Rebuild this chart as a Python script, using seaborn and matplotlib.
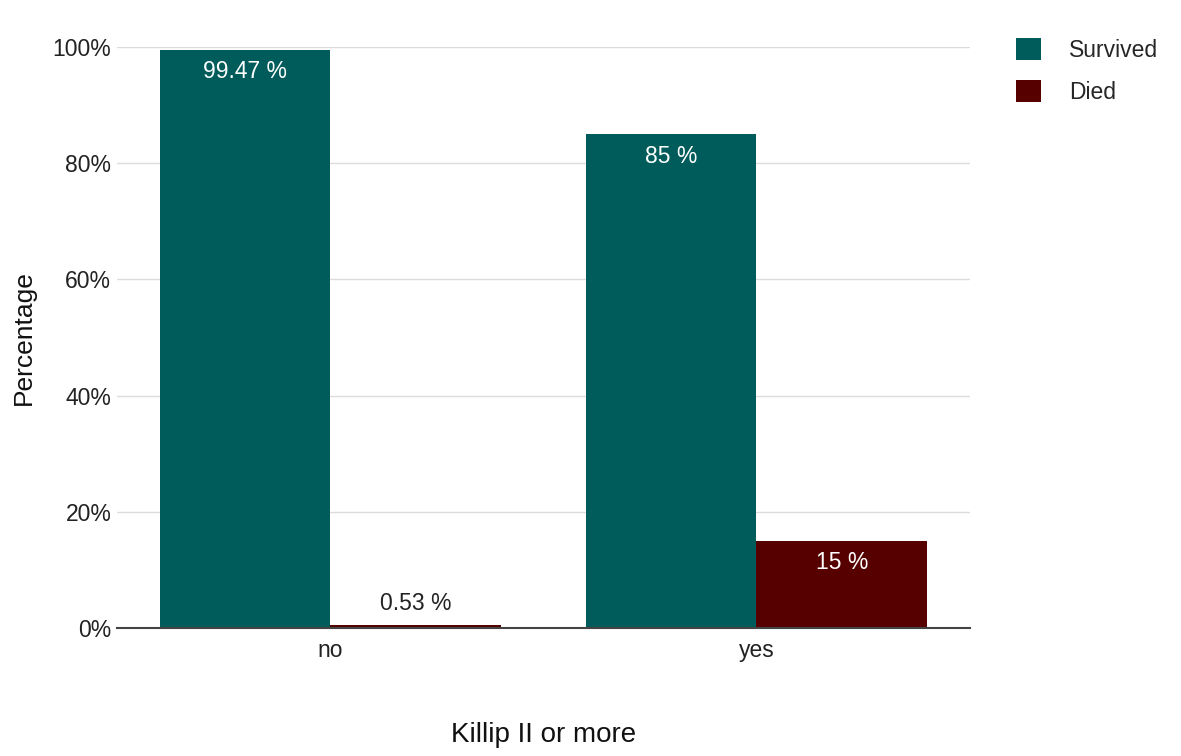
import pandas as pd
import matplotlib.pyplot as plt
import seaborn as sns
from matplotlib.ticker import PercentFormatter

killip = ['no', 'no', 'yes', 'yes']
outcome = ['Survived', 'Died', 'Survived', 'Died']
percent = [99.47, 0.53, 85, 15]
labels = ['99.47 %', '0.53 %', '85 %', '15 %']

df = pd.DataFrame({'Killip': killip, 'Outcome': outcome, 'Percent': percent})

sns.set_style('white')
plt.rcParams['font.family'] = ['Liberation Sans', 'DejaVu Sans']

fig = plt.figure(figsize=(11.81, 7.56), dpi=100)
ax = fig.add_axes([0.099, 0.169, 0.722, 0.769])

sns.barplot(data=df, x='Killip', y='Percent', hue='Outcome',
            palette={'Survived': '#005c5a', 'Died': '#560000'},
            width=0.8, saturation=1, linewidth=0, ax=ax, legend=True)

ax.set_xlim(-0.5, 1.5)
ax.set_ylim(0, 100)
ax.set_yticks([0, 20, 40, 60, 80, 100])
ax.yaxis.set_major_formatter(PercentFormatter(decimals=0))
ax.grid(axis='y', color='#dcdcdc', linewidth=1)
ax.set_axisbelow(True)
for s in ['top', 'right', 'left']:
    ax.spines[s].set_visible(False)
ax.spines['bottom'].set_color('#444444')
ax.spines['bottom'].set_linewidth(1.5)
ax.tick_params(axis='both', length=0, labelsize=16.5, colors='#222222')
ax.tick_params(axis='x', pad=8)
ax.tick_params(axis='y', pad=4)

ax.set_xlabel('Killip II or more', fontsize=20, color='#111111', labelpad=43)
ax.set_ylabel('Percentage', fontsize=19, color='#111111', labelpad=12)

# bar labels: white inside tall bars, dark above the tiny one
for cont in ax.containers:
    for bar in cont:
        h = bar.get_height()
        xc = bar.get_x() + bar.get_width() / 2
        idx = [j for j in range(len(percent)) if abs(percent[j] - h) < 1e-9][0]
        if h > 5:
            ax.text(xc, h - 1.8, labels[idx], ha='center', va='top', color='white', fontsize=16.5)
        else:
            ax.text(xc, h + 1.7, labels[idx], ha='center', va='bottom', color='#222222', fontsize=16.5)

leg = ax.legend(loc='upper left', bbox_to_anchor=(0.843, 0.977), bbox_transform=fig.transFigure,
                frameon=False, fontsize=16.5, handlelength=1.1, handleheight=1.1,
                handletextpad=1.2, labelspacing=0.8, title=None)

fig.savefig('out.png', dpi=100)
